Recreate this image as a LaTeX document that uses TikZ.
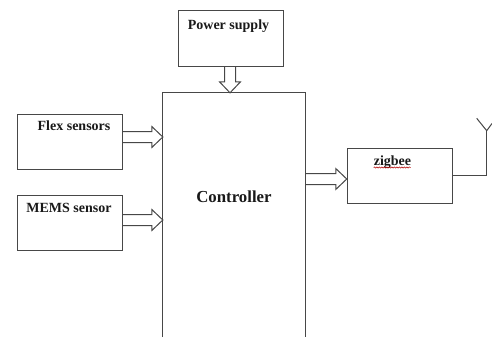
\documentclass[tikz,border=0pt]{standalone}
\usepackage{fontspec}
\setmainfont{Liberation Serif}
\usetikzlibrary{calc,decorations.pathmorphing}

\tikzset{
    wire/.style={draw=black!72, line width=1pt},
    blockbox/.style={wire, rectangle, inner sep=0pt, minimum width=105pt, minimum height=55pt},
    boxlabel/.style={anchor=base, inner sep=0pt, font=\bfseries\fontsize{14}{14}\selectfont, text=black!90},
}
\newcommand{\blockarrow}[2]{
    \draw[wire] ($(#1)!5.5pt!90:(#2)$) -- ($(#2)!11pt!(#1)!5.5pt!90:(#2)$)
        -- ($(#2)!11pt!(#1)!10.5pt!90:(#2)$) -- (#2)
        -- ($(#2)!11pt!(#1)!10.5pt!-90:(#2)$) -- ($(#2)!11pt!(#1)!5.5pt!-90:(#2)$)
        -- ($(#1)!5.5pt!-90:(#2)$);
}

\begin{document}
\begin{tikzpicture}[x=1pt, y=-1pt]
    \useasboundingbox (0, 0) rectangle (492, 337);
    % Blocks:
    \node[blockbox](power) at (231, 38.5){};
    \node[blockbox](flex) at (69.5, 141.5){};
    \node[blockbox](mems) at (69.5, 222.5){};
    \node[blockbox](zigbee) at (399.75, 175.7){};
    \node[inner sep=0pt, minimum width=142.5pt, minimum height=244pt](ctrl) at (234.25, 215){};
    \draw[wire] (ctrl.south west) -- (ctrl.north west) -- (ctrl.north east) -- (ctrl.south east);
    % Labels:
    \node[boxlabel](powertext) at (228.5, 29.5){Power supply};
    \node[boxlabel](flextext) at (74, 130){Flex sensors};
    \node[boxlabel](memstext) at (69, 212.7){MEMS sensor};
    \node[boxlabel, font=\bfseries\fontsize{16.8}{16.8}\selectfont](ctrltext) at (234, 202.7){Controller};
    \node[boxlabel](zigbeetext) at (392.5, 165){zigbee};
    \draw[red!70!black, line width=0.5pt, decorate, decoration={snake, amplitude=0.6pt, segment length=2.5pt}]
        (zigbeetext.base west) ++(0, 2.5) -- ++(37, 0);
    % Block arrows:
    \coordinate(powerin) at (230, 0 |- ctrl.north);
    \coordinate(powerout) at (powerin |- power.south);
    \blockarrow{powerout}{powerin}
    \coordinate(flexout) at (flex.east |- 0, 137);
    \coordinate(flexin) at (ctrl.west |- flexout);
    \blockarrow{flexout}{flexin}
    \coordinate(memsout) at (mems.east |- 0, 220);
    \coordinate(memsin) at (ctrl.west |- memsout);
    \blockarrow{memsout}{memsin}
    \coordinate(ctrlout) at (ctrl.east |- 0, 179);
    \coordinate(zigbeein) at (zigbee.west |- ctrlout);
    \blockarrow{ctrlout}{zigbeein}
    % Antenna:
    \coordinate(antbase) at (486.7, 130.7);
    \coordinate(antleft) at (476.7, 118.3);
    \coordinate(antright) at (492, 123.5);
    \draw[wire] (zigbee.east) -| (antbase);
    \draw[wire] (antleft) -- (antbase) -- (antright);
\end{tikzpicture}
\end{document}
